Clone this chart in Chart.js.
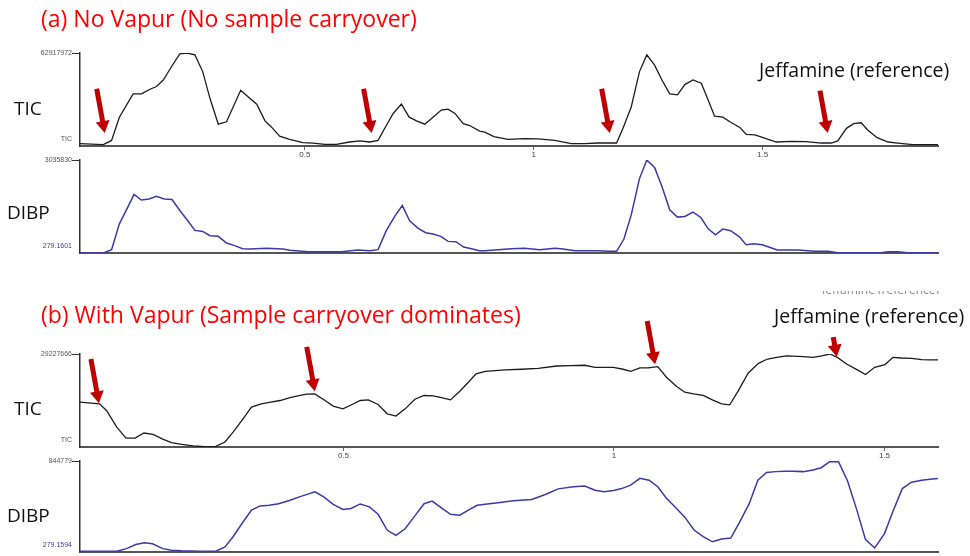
<!DOCTYPE html>
<html>
<head>
<meta charset="utf-8">
<script src="https://cdn.jsdelivr.net/npm/chart.js@4.4.0/dist/chart.umd.min.js"></script>
<style>
  body { margin: 0; background: #fff; }
  #wrap { position: relative; width: 970px; height: 556px; overflow: hidden; font-family: "Open Sans", sans-serif; }
  .panel { position: absolute; left: 0; width: 970px; }
  .txt { position: absolute; white-space: nowrap; line-height: 1; transform: translateY(-50%); }
  .title { color: #ff0000; font-size: 23px; }
  .trace { color: #111; font-size: 19px; }
  .ref { color: #111; font-size: 19.5px; }
  .ghost { position: absolute; left: 822px; top: 291px; height: 3px; width: 130px; overflow: hidden; }
  .ghost span { position: absolute; top: -10px; left: 0; font-size: 12px; color: #888; white-space: nowrap; }
</style>
</head>
<body>
<div id="wrap">
  <div class="panel" style="top:30px;height:130px"><canvas id="ticA"></canvas></div>
  <div class="panel" style="top:155px;height:105px"><canvas id="dibpA"></canvas></div>
  <div class="panel" style="top:315px;height:150px"><canvas id="ticB"></canvas></div>
  <div class="panel" style="top:455px;height:101px"><canvas id="dibpB"></canvas></div>

  <div class="txt title" style="left:41px;top:18px">(a) No Vapur (No sample carryover)</div>
  <div class="txt title" style="left:41px;top:314px">(b) With Vapur (Sample carryover dominates)</div>
  <div class="txt trace" style="left:14px;top:108px">TIC</div>
  <div class="txt trace" style="left:7px;top:212px">DIBP</div>
  <div class="txt trace" style="left:14px;top:408px">TIC</div>
  <div class="txt trace" style="left:7px;top:515px">DIBP</div>
  <div class="txt ref" style="left:759px;top:70px">Jeffamine (reference)</div>
  <div class="txt ref" style="left:774px;top:316px">Jeffamine (reference)</div>
  <div class="ghost"><span>Jeffamine (reference)</span></div>
</div>

<script>
// retention time ticks (min) and y-axis labels
const xTicks = [0.5, 1, 1.5];
const ticALabels = ['TIC', '62917972'];
const dibpALabels = ['279.1601', '3035830'];
const ticBLabels = ['TIC', '29227666'];
const dibpBLabels = ['279.1594', '844779'];

// (a) no Vapur - TIC, % of full scale
const ticATime = [0.009,0.060,0.078,0.095,0.125,0.143,0.162,0.176,0.191,0.209,0.227,0.243,0.260,0.277,0.293,0.311,0.329,0.360,0.376,0.395,0.413,0.427,0.445,0.467,0.496,0.518,0.544,0.569,0.598,0.620,0.642,0.660,0.678,0.693,0.711,0.728,0.744,0.762,0.780,0.798,0.813,0.828,0.846,0.860,0.882,0.893,0.913,0.944,0.980,1.009,1.046,1.082,1.111,1.140,1.181,1.195,1.213,1.231,1.247,1.264,1.280,1.297,1.314,1.330,1.348,1.366,1.381,1.395,1.413,1.432,1.450,1.464,1.483,1.501,1.530,1.563,1.595,1.628,1.650,1.664,1.683,1.699,1.715,1.730,1.750,1.774,1.795,1.828,1.883];
const ticAValues = [2.5,1.5,6,31,56,56,61,64,71,85.5,99,100,98,80,51,23.5,26,60,53,45,27,20.5,10.5,7,3.6,3.2,1.8,1.8,4.3,5.4,4.3,6,22,35,45,31,27,23.5,31,38.6,39.7,35,24,22,16,15,10,7.2,8,7.6,6,2.5,2.5,3.2,3.2,19,42,80,98,87,71,56,55,66,71,67.5,49.5,32,31,25,20,12.6,12,9,4.3,5,4.7,3.2,3.2,5.4,19,24,25,17,9,4.3,3.2,1.5,1.5];

// (a) no Vapur - DIBP extracted ion
const dibpATime = [0.009,0.060,0.078,0.095,0.111,0.127,0.143,0.160,0.176,0.193,0.210,0.227,0.244,0.260,0.277,0.293,0.311,0.329,0.347,0.364,0.380,0.416,0.453,0.467,0.507,0.580,0.616,0.642,0.660,0.678,0.697,0.713,0.729,0.747,0.764,0.780,0.797,0.813,0.830,0.847,0.864,0.882,0.893,0.922,0.951,0.980,1.013,1.046,1.064,1.090,1.140,1.162,1.181,1.197,1.213,1.231,1.247,1.264,1.280,1.297,1.314,1.330,1.348,1.365,1.381,1.397,1.413,1.430,1.448,1.464,1.481,1.499,1.515,1.532,1.577,1.614,1.643,1.664,1.759,1.774,1.795,1.817,1.883];
const dibpAValues = [0,0,3.6,31.4,47,63,57,58,61,58,57.5,45.7,35,24.3,23.2,18.6,17.9,10.7,7.9,4.6,4.3,5,4.3,2.9,1.4,1.4,3.2,2.5,3.6,24,40,51,34.6,26.8,21.8,20.4,17.9,12.5,12.1,6.4,4.6,2.5,2.5,3.6,4.6,5,3.6,5,4.3,2.5,2.5,1.8,1.8,15,41,80,100,92,71.4,46.4,38.6,39.3,44,38.2,26,19.6,25.7,24,17.9,8.9,10,8.9,6.1,3.2,3.2,1.8,1.8,0.4,0.4,1.4,1.4,0.4,0.4];

// (b) with Vapur - TIC
const ticBTime = [0.013,0.049,0.062,0.081,0.098,0.115,0.131,0.148,0.167,0.182,0.201,0.222,0.244,0.264,0.281,0.296,0.314,0.330,0.348,0.363,0.383,0.401,0.420,0.432,0.447,0.466,0.481,0.499,0.515,0.531,0.546,0.564,0.581,0.597,0.614,0.632,0.649,0.666,0.681,0.698,0.715,0.731,0.745,0.762,0.799,0.829,0.860,0.894,0.919,0.946,0.965,0.999,1.017,1.031,1.048,1.063,1.081,1.097,1.116,1.131,1.147,1.165,1.182,1.199,1.214,1.230,1.248,1.267,1.284,1.301,1.319,1.350,1.368,1.384,1.399,1.413,1.430,1.449,1.465,1.482,1.501,1.516,1.532,1.550,1.569,1.584,1.599];
const ticBValues = [48.2,46.4,39.3,21.4,9.6,9.6,15,13.6,8.2,4.6,2.9,1.1,0.4,0.7,5.4,16,30,43,46.4,47.9,50,53,55.4,56.8,57.1,50,44,41,45.4,50,50.7,45.7,35.7,33.2,41,51.4,55.4,55,53,50.7,60,69.6,78.6,81.4,82.9,83.6,84.6,87.1,87.5,87.9,85.7,85.7,83.6,81.4,85,85,86.4,75,65,58.9,57.1,55.4,50.7,46.4,45.4,60.7,79.3,90,94.6,96.4,97.9,97.1,96.4,97.9,100,96.4,89.3,83.2,77.9,85.7,88.6,96.4,95.7,95.4,93.9,93.6,93.6];

// (b) with Vapur - DIBP
const dibpBTime = [0.013,0.081,0.099,0.116,0.132,0.147,0.166,0.182,0.201,0.235,0.264,0.281,0.296,0.314,0.330,0.346,0.363,0.380,0.400,0.420,0.447,0.463,0.481,0.499,0.514,0.531,0.548,0.564,0.581,0.597,0.614,0.632,0.649,0.664,0.681,0.698,0.715,0.731,0.747,0.762,0.786,0.814,0.848,0.872,0.897,0.925,0.946,0.965,0.982,0.999,1.014,1.030,1.048,1.065,1.081,1.097,1.114,1.131,1.148,1.165,1.182,1.199,1.216,1.233,1.250,1.266,1.282,1.299,1.316,1.331,1.350,1.368,1.383,1.399,1.415,1.432,1.449,1.465,1.482,1.500,1.516,1.533,1.550,1.569,1.584,1.599];
const dibpBValues = [0.7,0.7,3.5,8,10,8.8,3.5,1.8,1.1,0.7,0.7,5.3,16.6,32.5,45.9,50.5,51.2,53,56.5,60.8,66.1,60.8,52.3,46.6,47.7,52.7,49.5,41.3,23.7,18,25.4,39.6,53,55.8,48.4,41.3,40.3,45.9,51.2,52.3,54.1,56.2,57.6,62.9,69.3,71.7,72.4,67.8,66.1,67.5,69.6,73.1,80.9,78.8,71.7,59,48.8,38.2,24,16.6,11,14.1,15.2,33.6,53,78.8,87.3,88.3,88.7,88.7,88.3,90.1,92.6,99.3,99.3,77.7,45.9,13.4,4.2,20.1,44.9,69.6,76.7,78.8,79.9,80.6];

// injection markers (arrow tips, in data units)
const arrowsATime = [0.063, 0.646, 1.166, 1.642];
const arrowsAValue = [14, 14, 14, 14];
const arrowsBTime = [0.048, 0.447, 1.076, 1.412];
const arrowsBValue = [47, 60, 89, 97];

const arrowPlugin = {
  id: 'arrows',
  afterDatasetsDraw(chart, args, opts) {
    if (!opts.x) return;
    const { ctx } = chart;
    const xs = chart.scales.x, ys = chart.scales.y;
    const ang = Math.atan2(44, 8);
    const ux = Math.cos(ang), uy = Math.sin(ang);
    ctx.save();
    ctx.fillStyle = '#c00000';
    ctx.strokeStyle = '#c00000';
    ctx.lineWidth = 5;
    opts.x.forEach((v, i) => {
      const tx = xs.getPixelForValue(v);
      const ty = ys.getPixelForValue(opts.y[i]);
      const len = opts.len[i];
      const head = 12;
      const bx = tx - ux * head, by = ty - uy * head;
      ctx.beginPath();
      ctx.moveTo(tx - ux * len, ty - uy * len);
      ctx.lineTo(bx + ux, by + uy);
      ctx.stroke();
      ctx.beginPath();
      ctx.moveTo(tx, ty);
      ctx.lineTo(bx - uy * 7, by + ux * 7);
      ctx.lineTo(bx + uy * 7, by - ux * 7);
      ctx.closePath();
      ctx.fill();
    });
    ctx.restore();
  }
};

function makePanel(id, cfg) {
  const points = cfg.time.map((t, i) => ({ x: t, y: cfg.values[i] }));
  new Chart(document.getElementById(id), {
    type: 'line',
    data: {
      datasets: [{
        data: points,
        borderColor: cfg.color,
        borderWidth: cfg.width,
        pointRadius: 0,
        tension: 0,
        fill: false
      }]
    },
    options: {
      responsive: true,
      maintainAspectRatio: false,
      animation: false,
      layout: { padding: { top: cfg.padTop, right: 32, left: 0, bottom: 0 } },
      plugins: {
        legend: { display: false },
        tooltip: { enabled: false },
        arrows: cfg.arrows || {}
      },
      scales: {
        x: {
          type: 'linear',
          min: cfg.time[0],
          max: cfg.time[cfg.time.length - 1],
          afterBuildTicks: s => { s.ticks = xTicks.map(v => ({ value: v })); },
          afterFit: s => { s.height = cfg.xHeight; },
          border: { color: '#555', width: 2 },
          grid: { drawOnChartArea: false, drawTicks: cfg.xLabels, tickLength: 4, color: '#666' },
          ticks: {
            display: cfg.xLabels,
            padding: 0,
            maxRotation: 0,
            color: '#444',
            font: { size: 8, family: 'Liberation Sans' },
            callback: v => String(v)
          }
        },
        y: {
          min: 0,
          max: 100,
          afterBuildTicks: s => { s.ticks = [{ value: 7 }, { value: 100 }]; },
          afterFit: s => { s.width = 80; },
          border: { color: '#333', width: 1.5 },
          grid: {
            drawOnChartArea: false,
            tickLength: 8,
            tickColor: c => (c.tick && c.tick.value === 100) ? '#333' : 'rgba(0,0,0,0)'
          },
          ticks: {
            padding: 0,
            color: c => (c.tick && c.tick.value === 100) ? '#555' : cfg.lowColor,
            font: { size: 7, family: 'Liberation Sans' },
            callback: v => v === 100 ? cfg.yLabels[1] : cfg.yLabels[0]
          }
        }
      }
    },
    plugins: [arrowPlugin]
  });
}

makePanel('ticA', {
  time: ticATime, values: ticAValues, yLabels: ticALabels,
  color: '#1c1c1c', width: 1.3, lowColor: '#555',
  padTop: 23, xHeight: 14, xLabels: true,
  arrows: { x: arrowsATime, y: arrowsAValue, len: [45, 45, 45, 43] }
});
makePanel('dibpA', {
  time: dibpATime, values: dibpAValues, yLabels: dibpALabels,
  color: '#3a3aa6', width: 1.5, lowColor: '#3a3aa6',
  padTop: 5, xHeight: 7, xLabels: false
});
makePanel('ticB', {
  time: ticBTime, values: ticBValues, yLabels: ticBLabels,
  color: '#1c1c1c', width: 1.3, lowColor: '#555',
  padTop: 39, xHeight: 18, xLabels: true,
  arrows: { x: arrowsBTime, y: arrowsBValue, len: [45, 45, 44, 20] }
});
makePanel('dibpB', {
  time: dibpBTime, values: dibpBValues, yLabels: dibpBLabels,
  color: '#3a3aa6', width: 1.5, lowColor: '#3a3aa6',
  padTop: 6, xHeight: 1, xLabels: false
});
</script>
</body>
</html>
